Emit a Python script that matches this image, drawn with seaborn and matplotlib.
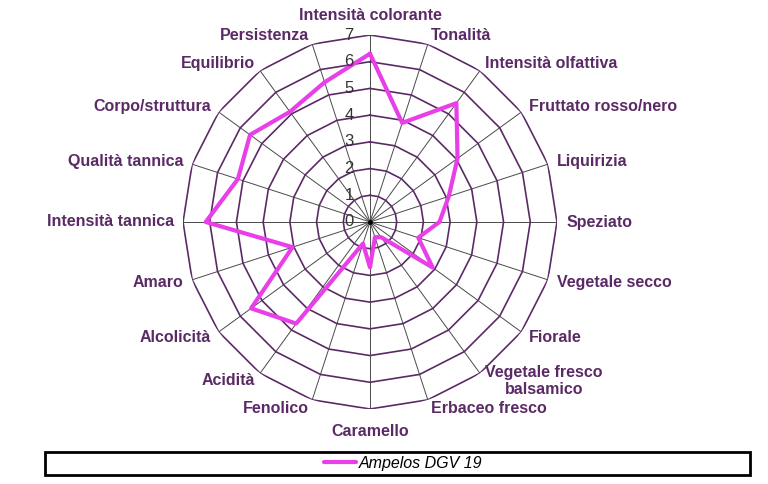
import numpy as np
import pandas as pd
import seaborn as sns
import matplotlib.pyplot as plt
from matplotlib.patches import Rectangle
from matplotlib.lines import Line2D

# descrittori (in senso orario partendo dall'alto)
categories = [
    "Intensità colorante", "Tonalità", "Intensità olfattiva", "Fruttato rosso/nero",
    "Liquirizia", "Speziato", "Vegetale secco", "Fiorale",
    "Vegetale fresco\nbalsamico", "Erbaceo fresco", "Caramello", "Fenolico",
    "Acidità", "Alcolicità", "Amaro", "Intensità tannica",
    "Qualità tannica", "Corpo/struttura", "Equilibrio", "Persistenza",
]
ampelos = [6.3, 3.9, 5.5, 4.05, 3.1, 2.6, 1.9, 2.9, 0.7, 0.6,
           1.7, 0.85, 4.7, 5.5, 3.05, 6.15, 5.2, 5.55, 5.1, 5.5]
series_name = "Ampelos DGV 19"
levels = [0, 1, 2, 3, 4, 5, 6, 7]

purple = "#5B2A66"
magenta = "#E83FE8"

sns.set_style("white")
plt.rcParams['font.family'] = ['Liberation Sans', 'DejaVu Sans']

fig = plt.figure(figsize=(7.68, 4.84), dpi=100)
ax = fig.add_axes([183 / 768, 75 / 484, 374 / 768, 374 / 484], projection="polar")
ax.set_theta_zero_location("N")
ax.set_theta_direction(-1)
ax.set_ylim(0, 7)
ax.grid(False)
ax.set_xticks([])
ax.set_yticks([])
ax.spines["polar"].set_visible(False)

n = len(categories)
theta = np.linspace(0, 2 * np.pi, n, endpoint=False)
theta_c = np.append(theta, 2 * np.pi)

# raggi
for t in theta:
    ax.plot([t, t], [0, 7], color="#4a4a4a", lw=0.7, zorder=1)
# poligoni della griglia
for lv in levels[1:]:
    ax.plot(theta_c, [lv] * (n + 1), color=purple, lw=1.2, zorder=2)
ax.plot([0], [0], "o", color="black", ms=2.5, zorder=3)

# serie
df = pd.DataFrame({"theta": theta_c, "valore": ampelos + ampelos[:1]})
sns.lineplot(data=df, x="theta", y="valore", sort=False, estimator=None,
             color=magenta, lw=3, ax=ax, zorder=4, legend=False)
ax.set_xlabel("")
ax.set_ylabel("")

# etichette della scala
for lv in levels:
    ax.annotate(str(lv), xy=(0, lv), xytext=(-15, 0), textcoords="offset points",
                ha="center", va="center", fontsize=12, color="#333333", zorder=5)

# etichette delle categorie
for t, lab in zip(theta, categories):
    s, c = np.sin(t), np.cos(t)
    if abs(s) < 0.01:
        ha = "center"
        va = "bottom" if c > 0 else "top"
        r = 7.45 if c > 0 else 7.55
    else:
        ha = "left" if s > 0 else "right"
        va = "center"
        r = 7.35
    ax.text(t, r, lab, ha=ha, va=va, fontsize=11.5, fontweight="bold",
            color=purple, multialignment="center")

# legenda
fig.patches.append(Rectangle((45 / 768, 9 / 484), 705 / 768, 23 / 484,
                             transform=fig.transFigure, fill=False,
                             edgecolor="black", lw=2))
handle = Line2D([], [], color=magenta, lw=3)
fig.legend([handle], [series_name], loc="center", bbox_to_anchor=(403 / 768, 20.5 / 484),
           frameon=False, handlelength=2.0, handletextpad=0.2, labelcolor="black",
           prop={"family": ["Liberation Sans Narrow", "Liberation Sans"],
                 "style": "italic", "size": 11.5})

fig.savefig("out.png", dpi=100)
